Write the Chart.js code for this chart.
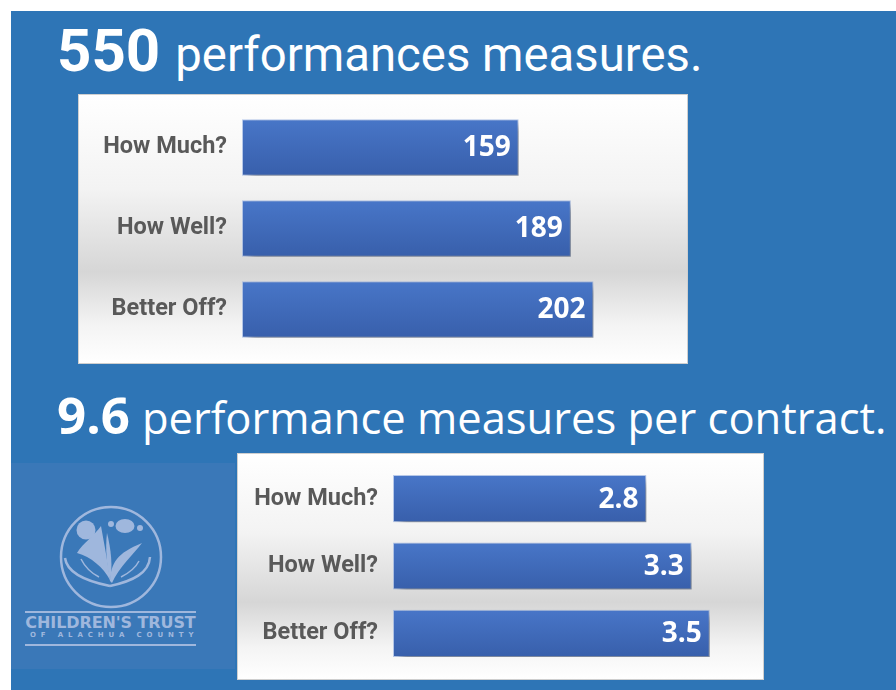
<!DOCTYPE html>
<html>
<head>
<meta charset="utf-8">
<script src="https://cdn.jsdelivr.net/npm/chart.js@4.4.0/dist/chart.umd.min.js"></script>
<style>
  body { margin: 0; width: 896px; height: 690px; background: #fff; position: relative; overflow: hidden; }
  canvas { display: block; }
  #bg { position: absolute; left: 11px; top: 11px; width: 885px; height: 679px; background: #2e75b6; }
  .title { position: absolute; color: #fff; white-space: nowrap; }
  #t1 { left: 57px; top: 21px; font-family: Roboto, sans-serif; font-size: 60px; line-height: 60px; }
  #t1 b { font-weight: 700; }
  #t1 span { font-size: 47.3px; margin-left: 15px; }
  #t2 { left: 57px; top: 388px; font-family: "Open Sans", sans-serif; font-size: 51px; line-height: 52px; }
  #t2 b { font-weight: 700; }
  #t2 span { font-size: 43.5px; margin-left: 12px; }
  .panel { position: absolute; box-sizing: border-box; border: 1px solid #cfcfcf;
    background: linear-gradient(#ffffff 0%, #f3f3f3 35%, #d6d6d6 66%, #f4f4f4 86%, #ffffff 100%); }
  #p1 { left: 78px; top: 94px; width: 610px; height: 270px; }
  #p2 { left: 237px; top: 453px; width: 527px; height: 227px; }
  #logo { position: absolute; left: 11px; top: 463px; width: 224px; height: 206px; background: #3a78b8; }
  #logo div { position: absolute; left: 14px; width: 171px; text-align: center; color: #9fb7dd; white-space: nowrap;
    font-family: "DejaVu Sans", sans-serif; font-weight: 700; }
  #logo .name { top: 152px; font-size: 16px; line-height: 16px; letter-spacing: -0.1px; }
  #logo .sub { top: 168px; font-size: 7px; line-height: 8px; letter-spacing: 4.9px; text-indent: 4.9px; }
</style>
</head>
<body>
<div id="bg"></div>
<div class="title" id="t1"><b>550</b><span>performances measures.</span></div>
<div class="title" id="t2"><b>9.6</b><span>performance measures per contract.</span></div>

<div class="panel" id="p1"><canvas id="chart1" width="608" height="268"></canvas></div>

<div id="logo">
  <svg width="224" height="206" viewBox="0 0 224 206">
    <g fill="none" stroke="#9fb7dd" stroke-width="2.5">
      <circle cx="100" cy="94" r="50"/>
      <path d="M54 95 C56 110 74 118 99 123"/>
      <path d="M139 94 C138 110 122 118 99 123"/>
      <path d="M70 96 C74 104 80 110 88 114" stroke-width="1.5"/>
      <path d="M128 98 C124 106 118 110 110 114" stroke-width="1.5"/>
    </g>
    <g fill="#9fb7dd">
      <circle cx="75" cy="67" r="9.5"/>
      <ellipse cx="114" cy="63" rx="9.5" ry="7"/>
      <circle cx="100" cy="61" r="3"/>
      <circle cx="129" cy="65" r="3"/>
      <path d="M66 90 C72 80 84 72 90 63 C93 80 97 100 99 117 C92 104 80 94 66 90 Z"/>
      <path d="M96 70 C100 86 102 104 99 118 C96 104 94 86 96 70 Z"/>
      <path d="M99 118 C100 100 106 90 131 80 C122 92 108 104 101 120 Z"/>
      <rect x="14" y="148" width="171" height="2"/>
      <rect x="14" y="181" width="171" height="2"/>
    </g>
  </svg>
  <div class="name">CHILDREN'S TRUST</div>
  <div class="sub">OF ALACHUA COUNTY</div>
</div>

<div class="panel" id="p2"><canvas id="chart2" width="525" height="225"></canvas></div>

<script>
// data
const categories = ['How Much?', 'How Well?', 'Better Off?'];
const totalMeasures = [159, 189, 202];
const perContract = [2.8, 3.3, 3.5];

// bar gradient, one per bar
function barFill(context) {
  const chart = context.chart;
  const yScale = chart.scales.y;
  if (!chart.chartArea || !yScale) return '#4472c4';
  const y = yScale.getPixelForValue(context.dataIndex);
  const half = (yScale.height / categories.length) * 0.7 / 2;
  const g = chart.ctx.createLinearGradient(0, y - half, 0, y + half);
  g.addColorStop(0, '#4876c8');
  g.addColorStop(1, '#385fab');
  return g;
}

// soft shadow under bars
const shadowPlugin = {
  id: 'barShadow',
  beforeDatasetDraw(chart) {
    const c = chart.ctx;
    c.save();
    c.shadowColor = 'rgba(0,0,0,0.35)';
    c.shadowBlur = 8;
    c.shadowOffsetX = 7;
    c.shadowOffsetY = 6;
  },
  afterDatasetDraw(chart) {
    chart.ctx.restore();
  }
};

// value labels inside the bar end
const valueLabels = {
  id: 'valueLabels',
  afterDatasetsDraw(chart, args, opts) {
    const c = chart.ctx;
    const meta = chart.getDatasetMeta(0);
    const values = chart.data.datasets[0].data;
    c.save();
    c.fillStyle = '#ffffff';
    c.font = 'bold 28px "Open Sans", sans-serif';
    c.textAlign = 'right';
    c.textBaseline = 'middle';
    meta.data.forEach((bar, i) => {
      c.fillText(opts.format(values[i]), bar.x - opts.inset, bar.y + 1);
    });
    c.restore();
  }
};

function makeChart(id, values, xMax, yWidth, pad, fmt) {
  return new Chart(document.getElementById(id), {
    type: 'bar',
    data: {
      labels: categories,
      datasets: [{
        data: values,
        backgroundColor: barFill,
        borderColor: 'rgba(140,170,225,0.6)',
        borderWidth: 1,
        borderSkipped: false,
        categoryPercentage: 1,
        barPercentage: 0.7
      }]
    },
    options: {
      indexAxis: 'y',
      responsive: false,
      animation: false,
      layout: { padding: pad },
      plugins: {
        legend: { display: false },
        tooltip: { enabled: false },
        valueLabels: { format: fmt, inset: 8 }
      },
      scales: {
        x: {
          display: false,
          min: 0,
          max: xMax
        },
        y: {
          grid: { display: false, drawTicks: false },
          border: { display: false },
          ticks: {
            color: '#595959',
            padding: 15,
            font: { family: 'Roboto', size: 23.5, weight: 'bold' }
          },
          afterFit(scale) {
            scale.width = yWidth;
            // labels fit inside the panel, no extra room needed
            scale.paddingTop = 0;
            scale.paddingBottom = 0;
          }
        }
      }
    },
    plugins: [shadowPlugin, valueLabels]
  });
}

makeChart('chart1', totalMeasures, 250, 163, { top: 12, bottom: 13, left: 0, right: 10 }, v => String(v));
makeChart('chart2', perContract, 4.0, 155, { top: 11, bottom: 12, left: 0, right: 8 }, v => v.toFixed(1));
</script>
</body>
</html>
